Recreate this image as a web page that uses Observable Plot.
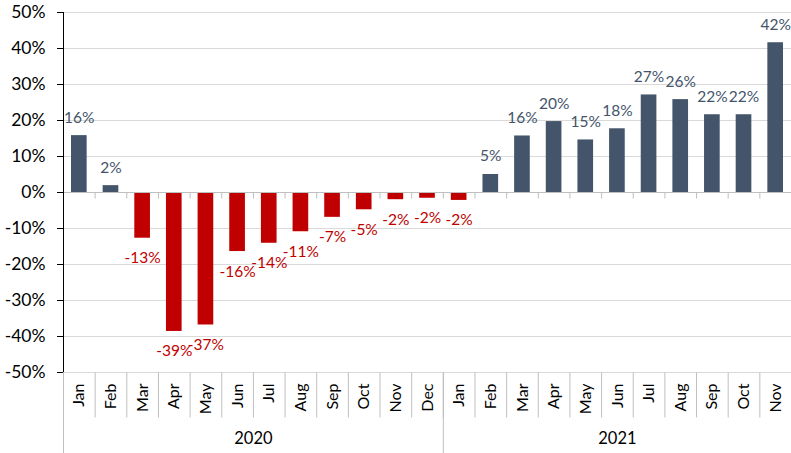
<!DOCTYPE html>
<html><head><meta charset="utf-8">
<script src="https://cdn.jsdelivr.net/npm/d3@7"></script>
<script src="https://cdn.jsdelivr.net/npm/@observablehq/plot@0.6"></script>
<style>body{margin:0;background:#fff;} svg{display:block}</style>
</head><body><div id="chart"></div>
<script>
const years = ["2020", "2021"];
const months2020 = ["Jan","Feb","Mar","Apr","May","Jun","Jul","Aug","Sep","Oct","Nov","Dec"];
const months2021 = ["Jan","Feb","Mar","Apr","May","Jun","Jul","Aug","Sep","Oct","Nov"];
const values2020 = [15.8, 1.9, -12.7, -38.6, -36.8, -16.4, -14.1, -10.9, -6.9, -4.8, -2.0, -1.6];
const values2021 = [-2.2, 5.0, 15.7, 19.7, 14.6, 17.7, 27.1, 25.8, 21.6, 21.6, 41.6];
const yTicks = [-50, -40, -30, -20, -10, 0, 10, 20, 30, 40, 50];

const rows = [];
[[years[0], months2020, values2020], [years[1], months2021, values2021]].forEach(([year, ms, vs]) =>
  ms.forEach((m, k) => rows.push({i: rows.length, year, month: m, value: vs[k]})));
const n = rows.length;
const bounds = d3.range(n + 1);
const yearSpans = years.map(y => {
  const r = rows.filter(d => d.year === y);
  return {year: y, start: r[0].i, end: r[r.length - 1].i + 1};
});
const yearBounds = [0, ...yearSpans.map(s => s.end)];

const posColor = "#44546A", negColor = "#C00000";
const yMin = yTicks[0], yMax = yTicks[yTicks.length - 1];

const vline = len => ({draw(ctx) { ctx.moveTo(0, 0); ctx.lineTo(0, len); }});

const chart = Plot.plot({
  width: 791, height: 453,
  marginLeft: 63, marginRight: 0, marginTop: 12, marginBottom: 81,
  x: {type: "linear", domain: [0, n], axis: null},
  y: {domain: [yMin, yMax], axis: null},
  style: {fontFamily: "Lato, 'Open Sans', sans-serif", background: "#fff", color: "#000"},
  marks: [
    Plot.ruleY(yTicks.filter(t => t !== 0), {stroke: "#d9d9d9", strokeWidth: 1}),
    Plot.rectY(rows, {x1: "i", x2: d => d.i + 1, y: "value", insetLeft: 8, insetRight: 8,
      fill: d => d.value < 0 ? negColor : posColor}),
    Plot.ruleY([0], {stroke: "#bfbfbf", strokeWidth: 1}),
    Plot.dot(bounds, {x: d => d, y: 0, symbol: vline(6), fill: "none", stroke: "#bfbfbf", strokeWidth: 1}),
    Plot.dot(bounds, {x: d => d, y: yMin, symbol: vline(45), fill: "none", stroke: "#bfbfbf", strokeWidth: 1}),
    Plot.dot(yearBounds, {x: d => d, y: yMin, symbol: vline(81), fill: "none", stroke: "#bfbfbf", strokeWidth: 1}),
    Plot.ruleX([0], {y1: yMin, y2: yMax, stroke: "#000", strokeWidth: 1}),
    Plot.axisY({ticks: yTicks, tickFormat: d => d + "%", tickSize: 6, tickPadding: 12, fontSize: 17.5,
      stroke: "#000", fill: "#000", label: null}),
    Plot.text(rows.filter(d => d.value >= 0), {x: d => d.i + 0.5, y: "value", text: d => Math.round(d.value) + "%",
      dy: -18, fill: posColor, fontSize: 15.5}),
    Plot.text(rows.filter(d => d.value < 0), {x: d => d.i + 0.5, y: "value", text: d => Math.round(d.value) + "%",
      dy: 20, fill: negColor, fontSize: 15.5}),
    Plot.text(rows, {x: d => d.i + 0.5, y: yMin, text: "month", rotate: -90, textAnchor: "end", dy: 11,
      fill: "#000", fontSize: 16}),
    Plot.text(yearSpans, {x: d => (d.start + d.end) / 2, y: yMin, text: "year", dy: 66, fill: "#000", fontSize: 16.5})
  ]
});
document.getElementById("chart").appendChild(chart);
</script>
</body></html>
